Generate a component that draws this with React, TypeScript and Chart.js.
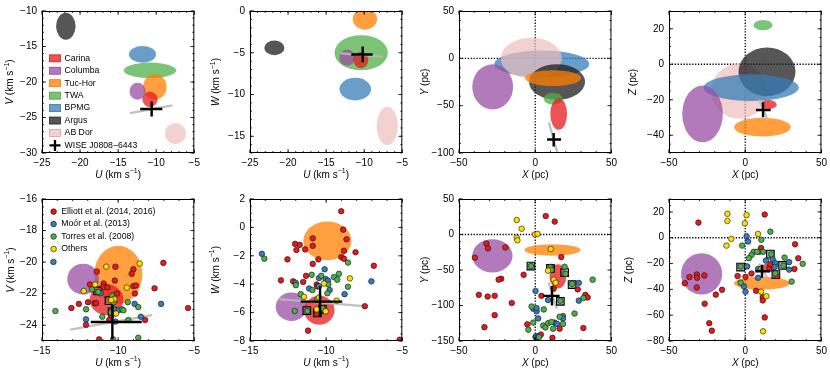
import React, { useEffect, useRef } from 'react';
import { Chart, registerables } from 'chart.js';
Chart.register(...registerables);

const FONT = '"Liberation Sans", Arial, Helvetica, sans-serif';

// ---------- groups ----------
const groupNames = ['Carina', 'Columba', 'Tuc-Hor', 'TWA', 'BPMG', 'Argus', 'AB Dor'];
const groupFill: Record<string, string> = {
  Carina: 'rgba(228,26,28,0.75)',
  Columba: 'rgba(152,78,163,0.75)',
  'Tuc-Hor': 'rgba(255,127,0,0.75)',
  TWA: 'rgba(77,175,74,0.75)',
  BPMG: 'rgba(55,126,184,0.75)',
  Argus: 'rgba(30,30,30,0.75)',
  'AB Dor': 'rgba(240,190,190,0.7)',
};
const groupEdge: Record<string, string> = {
  Carina: 'rgba(200,20,25,0.9)',
  Columba: 'rgba(130,60,140,0.9)',
  'Tuc-Hor': 'rgba(230,110,0,0.9)',
  TWA: 'rgba(60,150,60,0.9)',
  BPMG: 'rgba(45,105,160,0.9)',
  Argus: 'rgba(20,20,20,0.9)',
  'AB Dor': 'rgba(210,150,150,0.9)',
};
const wiseName = 'WISE J0808\u22126443';
const refNames = ['Elliott et al. (2014, 2016)', 'Mo\u00f3r et al. (2013)', 'Torres et al. (2008)', 'Others'];
const refColors = ['#e41a1c', '#377eb8', '#4daf4a', '#ffdd00'];

// ---------- ellipses: [group, centre x, centre y, radius x, radius y] ----------
type Ell = [string, number, number, number, number];
const uvEllipsesTop: Ell[] = [
  ['AB Dor', -7.48, -27.27, 1.39, 1.48],
  ['Argus', -21.87, -12.14, 1.28, 1.9],
  ['BPMG', -11.8, -16.1, 1.78, 1.18],
  ['TWA', -10.82, -18.36, 3.45, 1.09],
  ['Tuc-Hor', -10.18, -20.68, 1.54, 1.82],
  ['Columba', -12.45, -21.3, 1.05, 1.2],
  ['Carina', -10.82, -22.45, 1.0, 1.09],
];
const uwEllipsesTop: Ell[] = [
  ['AB Dor', -6.97, -13.77, 1.38, 2.3],
  ['Argus', -21.8, -4.42, 1.32, 0.88],
  ['BPMG', -11.18, -9.35, 2.08, 1.35],
  ['TWA', -10.4, -5.0, 3.5, 2.1],
  ['Tuc-Hor', -9.91, -0.96, 1.6, 1.27],
  ['Columba', -12.24, -5.58, 1.03, 0.96],
  ['Carina', -10.44, -5.88, 0.99, 0.96],
];
const xyEllipsesTop: Ell[] = [
  ['BPMG', 4.3, -5.9, 31.2, 14.1],
  ['AB Dor', -2.6, 0.2, 20.0, 21.6],
  ['Argus', 14.3, -25.0, 18.4, 18.75],
  ['Tuc-Hor', 11.7, -20.9, 18.4, 8.35],
  ['Columba', -27.9, -30.1, 13.4, 23.9],
  ['TWA', 11.7, -42.7, 6.2, 6.3],
  ['Carina', 15.4, -58.8, 5.5, 16.7],
];
const xzEllipsesTop: Ell[] = [
  ['AB Dor', -3.9, -15.2, 18.5, 15.5],
  ['Argus', 14.3, -4.26, 18.7, 13.7],
  ['BPMG', 3.9, -13.2, 31.3, 7.5],
  ['Carina', 15.4, -22.7, 5.3, 2.5],
  ['Tuc-Hor', 11.3, -35.4, 18.6, 5.3],
  ['Columba', -28.0, -28.0, 13.3, 16.0],
  ['TWA', 11.7, 22.0, 6.2, 2.9],
];
const uvEllipsesBottom: Ell[] = [
  ['Tuc-Hor', -9.99, -20.8, 1.58, 1.84],
  ['Columba', -12.3, -21.08, 1.04, 0.97],
  ['Carina', -10.76, -22.38, 1.1, 0.97],
];
const uwEllipsesBottom: Ell[] = [
  ['Tuc-Hor', -9.92, -0.95, 1.58, 1.36],
  ['Columba', -12.28, -5.59, 1.03, 1.0],
  ['Carina', -10.45, -5.84, 1.0, 1.02],
];
const xyEllipsesBottom: Ell[] = [
  ['Columba', -28.1, -30.0, 13.2, 23.4],
  ['Tuc-Hor', 11.3, -21.8, 18.4, 8.0],
  ['Carina', 14.9, -59.0, 5.5, 17.0],
];
const xzEllipsesBottom: Ell[] = [
  ['Columba', -28.6, -28.0, 13.5, 16.0],
  ['Tuc-Hor', 11.0, -35.3, 18.4, 5.0],
  ['Carina', 15.1, -23.5, 5.1, 3.3],
];

// ---------- WISE J0808-6443: [x, y, x low, x high, y low, y high] ----------
const wiseUVTop = [-10.6, -23.8, -12.1, -9.2, -24.85, -22.75];
const wiseUWTop = [-10.2, -5.2, -11.7, -8.9, -6.15, -4.25];
const wiseXYTop = [12.1, -85.7, 7.8, 16.9, -93.2, -78.9];
const wiseXZTop = [11.7, -25.8, 7.0, 16.7, -29.8, -21.6];
const wiseUVBottom = [-10.38, -23.8, -11.8, -8.45, -24.9, -22.7];
const wiseUWBottom = [-10.4, -5.23, -11.67, -8.94, -6.3, -4.14];
const wiseXYBottom = [11.0, -86.4, 5.2, 16.0, -100.0, -72.7];
const wiseXZBottom = [11.0, -26.0, 6.6, 16.3, -31.0, -21.0];

// ---------- grey segment through WISE: [x1, y1, x2, y2] ----------
const greyUVTop = [-13.44, -24.4, -7.87, -23.3];
const greyUWTop = [-13.1, -5.08, -7.54, -5.46];
const greyXYTop = [8.9, -67.6, 15.5, -105];
const greyXZTop = [9.1, -19.9, 14.6, -31.2];
const greyUVBottom = [-13.14, -24.28, -7.78, -23.36];
const greyUWBottom = [-13.08, -5.05, -7.53, -5.55];
const greyXYBottom = [8.9, -68, 14.1, -104.5];
const greyXZBottom = [9.0, -20, 14.5, -31];

// ---------- literature members ----------
type Pt = [number, number];
const uvElliott: Pt[] = [[-10.18,-20.29],[-11.4,-20.6],[-9.0,-20.46],[-9.11,-20.74],[-7.03,-20.05],[-10.22,-21.17],[-11.85,-21.42],[-10.95,-21.36],[-10.97,-21.58],[-9.0,-21.52],[-8.83,-21.48],[-7.61,-21.66],[-8.9,-21.99],[-10.08,-21.99],[-11.98,-22.54],[-12.58,-22.65],[-11.53,-22.6],[-11.45,-22.6],[-13.07,-22.91],[-12.11,-23.97],[-10.46,-23.42],[-10.59,-23.67],[-8.23,-23.67],[-5.41,-22.91],[-11.25,-24.9],[-10.7,-21.6]];
const uvMoor: Pt[] = [[-14.25,-19.99],[-12.11,-23.63],[-11.15,-21.97],[-7.18,-22.65],[-8.92,-22.65],[-8.51,-23.46],[-10.25,-22.99],[-9.97,-23.05],[-10.18,-23.77]];
const uvTorres: Pt[] = [[-14.12,-23.1],[-12.11,-22.99],[-11.72,-21.73],[-11.3,-21.89],[-10.4,-22.13],[-10.3,-22.55],[-9.37,-22.54],[-9.75,-22.99],[-9.65,-23.05],[-8.68,-22.85],[-11.04,-23.46],[-9.33,-23.67],[-8.68,-24.79],[-10.33,-24.9],[-10.45,-23.2]];
const uvOthers: Pt[] = [[-10.78,-20.29],[-8.58,-20.09],[-11.51,-21.42],[-9.43,-21.62],[-12.26,-21.83],[-10.25,-22.34],[-10.14,-23.26],[-10.45,-22.4]];
const uvSquares: Pt[] = [[-11.34,-21.83],[-10.6,-22.44],[-10.4,-23.16]];

const uwElliott: Pt[] = [[-9.01,1.14],[-8.88,-0.16],[-8.66,-0.84],[-10.88,-0.77],[-10.88,-1.3],[-12.04,-1.16],[-11.73,-1.23],[-11.95,-1.59],[-11.38,-1.55],[-8.83,-1.64],[-9.01,-2.09],[-8.83,-2.2],[-8.07,-1.75],[-10.51,-2.25],[-12.54,-2.25],[-10.88,-2.57],[-6.87,-2.7],[-11.32,-3.41],[-12.97,-3.73],[-12.17,-3.8],[-11.51,-3.84],[-10.62,-4.02],[-10.58,-4.15],[-7.46,-5.55],[-11.19,-7.27],[-5.17,-7.91],[-10.6,-6.1]];
const uwMoor: Pt[] = [[-14.22,-1.86],[-10.1,-2.95],[-10.47,-3.57],[-10.03,-3.64],[-9.88,-3.75],[-11.12,-4.3],[-10.47,-4.14],[-9.77,-4.41],[-8.79,-4.7],[-7.03,-3.8],[-12.0,-3.9]];
const uwTorres: Pt[] = [[-14.06,-2.2],[-8.57,-2.48],[-11.99,-4.07],[-10.95,-3.34],[-9.49,-3.5],[-10.32,-3.41],[-9.16,-3.27],[-9.27,-3.68],[-9.86,-4.02],[-8.57,-4.18],[-11.67,-4.7],[-10.9,-4.41],[-9.92,-4.64],[-12.06,-5.89],[-11.23,-5.89],[-10.47,-5.84],[-10.25,-5.7],[-10.58,-5.1]];
const uwOthers: Pt[] = [[-10.14,-3.95],[-8.44,-3.59],[-11.45,-4.89],[-10.47,-4.93],[-9.31,-5.16],[-10.03,-5.91],[-10.62,-5.77]];
const uwSquares: Pt[] = [[-11.27,-5.86],[-10.58,-6.02],[-10.25,-5.77]];

const xyElliott: Pt[] = [[6.9,25.9],[12.8,18.2],[-32.0,-12.7],[-31.0,-19.5],[-19.5,-18.2],[-39.6,-32.7],[17.1,-31.8],[10.2,-45.5],[-7.6,-56.8],[-22.3,-62.3],[-24.0,-63.6],[12.1,-76.4],[27.9,-77.3],[-37.0,-85],[-31.2,-87.3],[-26.6,-86.4],[4.1,-86.4],[32.9,-85],[34.4,-88.6],[-15.4,-96.4],[-26.6,-113.6],[-33.3,-130.5],[-5.2,-126.4],[0.2,-144.5],[3.7,-141],[11.3,-145.5],[16.0,-132.7],[31.6,-131.8]];
const xyMoor: Pt[] = [[0.2,-79.5],[8.4,-92.3],[-1.3,-104.5],[0.9,-108.2],[0.9,-103.6],[1.9,-118.2],[12.8,-124.1],[18.2,-115],[18.2,-118.2],[14.3,-125.9],[28.6,-68.2],[28.6,-93.2],[0.6,-143.2],[1.7,-144.5]];
const xyTorres: Pt[] = [[-2.8,-44.5],[10.0,-46.4],[19.3,-45.5],[19.9,-55.5],[10.6,-50],[37.7,-63.6],[24.2,-69.5],[31.6,-89.5],[16.5,-93.2],[-2.4,-101.4],[5.6,-105.5],[25.8,-111.4],[16.0,-115.9],[-1.3,-124.1],[5.2,-128.2],[6.7,-130.9],[8.4,-125],[11.7,-132.7],[10.6,-123.2],[18.2,-125.9],[2.6,-144.5],[-4.5,-134]];
const xyOthers: Pt[] = [[-12.1,20.5],[-8.9,8.2],[-12.1,-4.5],[-11.7,-8.2],[-0.2,0],[1.5,0.9],[10.2,-20.5],[8.4,-50.9],[12.1,-63.6],[13.4,-68]];
const xySquares: Pt[] = [[-2.8,-44.5],[10.0,-47.7],[19.3,-53.6],[24.2,-70.5],[16.5,-94.1]];

const xzElliott: Pt[] = [[-30.7,11.7],[12.8,18.0],[32.7,-5.1],[10.4,-7.9],[-31.8,-28.5],[-36.6,-30.5],[-31.6,-31.0],[-26.8,-29.2],[-39.6,-35.3],[-31.8,-38.5],[-19.3,-44.1],[-15.2,-40.3],[-26.6,-51.1],[-23.6,-66.2],[-21.9,-72],[-5.0,-29.7],[0.2,-30.3],[4.1,-27.7],[7.1,-41.1],[11.5,-46.1],[11.5,-48.6],[12.8,-61.7],[15.8,-23.5],[20.8,-29.7],[32.3,-24.2],[34.8,-15.9],[16.5,-20.5]];
const xzMoor: Pt[] = [[0.9,1.2],[1.9,-2.9],[1.3,-22.2],[8.4,-24.2],[13.6,-17.7],[18.0,-16.7],[19.8,-19.7],[28.8,-18.9],[28.8,-24.7],[8.4,-31.0],[-0.9,-37.8],[0.2,-41.8],[19.3,-22.7]];
const xzTorres: Pt[] = [[-2.0,-6.1],[10.6,-1.6],[16.5,4.7],[5.6,-10.9],[4.1,-13.4],[2.4,-15.9],[9.1,-10.9],[11.7,-10.9],[17.1,-12.9],[25.8,-15.4],[37.7,-20.2],[-3.0,-22.2],[10.0,-24.2],[25.1,-21.7],[19.7,-27.7],[30.5,-34],[-3.0,-34.8],[7.8,-10.9]];
const xzOthers: Pt[] = [[-11.7,18.5],[0.9,17.5],[-11.7,13.0],[-0.2,11.2],[-9.1,-0.9],[-12.3,-6.1],[8.4,2.9],[10.4,-41.8],[13.9,-45.3],[11.7,-72.5]];
const xzSquares: Pt[] = [[-3.0,-22.7],[16.5,-12.7],[20.1,-28.5],[24.5,-21.5]];

// ---------- axes ----------
const uTicksTop = [-25, -20, -15, -10, -5];
const vTicksTop = [-30, -25, -20, -15, -10];
const wTicksTop = [-15, -10, -5, 0];
const xTicks = [-50, 0, 50];
const yTicksTop = [-100, -50, 0, 50];
const zTicksTop = [-40, -20, 0, 20];
const uTicksBottom = [-15, -10, -5];
const vTicksBottom = [-24, -22, -20, -18, -16];
const wTicksBottom = [-8, -6, -4, -2, 0, 2];
const yTicksBottom = [-150, -100, -50, 0, 50];
const zTicksBottom = [-80, -60, -40, -20, 0, 20];

type Title = { v: string; u: string; sup?: string };
const tU: Title = { v: 'U', u: 'km s', sup: '\u22121' };
const tV: Title = { v: 'V', u: 'km s', sup: '\u22121' };
const tW: Title = { v: 'W', u: 'km s', sup: '\u22121' };
const tX: Title = { v: 'X', u: 'pc' };
const tY: Title = { v: 'Y', u: 'pc' };
const tZ: Title = { v: 'Z', u: 'pc' };

interface PanelCfg {
  left: number; top: number;
  xr: [number, number]; yr: [number, number];
  xt: number[]; yt: number[]; xm: number; ym: number;
  xTitle: Title; yTitle: Title; yTitleOff: number;
  ell: Ell[]; zero: boolean;
  wise: number[]; grey: number[];
  pts?: { e: Pt[]; m: Pt[]; t: Pt[]; o: Pt[]; s: Pt[] };
  legend?: 'groups' | 'refs';
}

const W = 154, H = 146, LM = 50, RM = 8, TM = 7, BM = 33;
const panels: PanelCfg[] = [
  { left: 42, top: 7, xr: [-25, -5], yr: [-30, -10], xt: uTicksTop, yt: vTicksTop, xm: 1, ym: 1, xTitle: tU, yTitle: tV, yTitleOff: 31.5, ell: uvEllipsesTop, zero: false, wise: wiseUVTop, grey: greyUVTop, legend: 'groups' },
  { left: 250, top: 7, xr: [-25, -5], yr: [-17, 0], xt: uTicksTop, yt: wTicksTop, xm: 1, ym: 1, xTitle: tU, yTitle: tW, yTitleOff: 33.5, ell: uwEllipsesTop, zero: false, wise: wiseUWTop, grey: greyUWTop },
  { left: 459, top: 7, xr: [-50, 50], yr: [-100, 50], xt: xTicks, yt: yTicksTop, xm: 10, ym: 10, xTitle: tX, yTitle: tY, yTitleOff: 34, ell: xyEllipsesTop, zero: true, wise: wiseXYTop, grey: greyXYTop },
  { left: 669, top: 7, xr: [-50, 50], yr: [-50, 30], xt: xTicks, yt: zTicksTop, xm: 10, ym: 5, xTitle: tX, yTitle: tZ, yTitleOff: 35.5, ell: xzEllipsesTop, zero: true, wise: wiseXZTop, grey: greyXZTop },
  { left: 42, top: 195, xr: [-15, -5], yr: [-25, -16], xt: uTicksBottom, yt: vTicksBottom, xm: 1, ym: 0.5, xTitle: tU, yTitle: tV, yTitleOff: 31, ell: uvEllipsesBottom, zero: false, wise: wiseUVBottom, grey: greyUVBottom, pts: { e: uvElliott, m: uvMoor, t: uvTorres, o: uvOthers, s: uvSquares }, legend: 'refs' },
  { left: 250, top: 195, xr: [-15, -5], yr: [-8, 2], xt: uTicksBottom, yt: wTicksBottom, xm: 1, ym: 0.5, xTitle: tU, yTitle: tW, yTitleOff: 34, ell: uwEllipsesBottom, zero: false, wise: wiseUWBottom, grey: greyUWBottom, pts: { e: uwElliott, m: uwMoor, t: uwTorres, o: uwOthers, s: uwSquares } },
  { left: 459, top: 195, xr: [-50, 50], yr: [-150, 50], xt: xTicks, yt: yTicksBottom, xm: 10, ym: 10, xTitle: tX, yTitle: tY, yTitleOff: 34, ell: xyEllipsesBottom, zero: true, wise: wiseXYBottom, grey: greyXYBottom, pts: { e: xyElliott, m: xyMoor, t: xyTorres, o: xyOthers, s: xySquares } },
  { left: 669, top: 195, xr: [-50, 50], yr: [-80, 30], xt: xTicks, yt: zTicksBottom, xm: 10, ym: 5, xTitle: tX, yTitle: tZ, yTitleOff: 40, ell: xzEllipsesBottom, zero: true, wise: wiseXZBottom, grey: greyXZBottom, pts: { e: xzElliott, m: xzMoor, t: xzTorres, o: xzOthers, s: xzSquares } },
];

const fmt = (v: number | string) => {
  const n = Number(v);
  return n < 0 ? '\u2212' + Math.abs(n) : String(n);
};

function drawTitle(ctx: CanvasRenderingContext2D, t: Title, cx: number, cy: number, rot: boolean) {
  const fItal = `italic 10px ${FONT}`;
  const fNorm = `10px ${FONT}`;
  const fSup = `7px ${FONT}`;
  ctx.save();
  ctx.translate(cx, cy);
  if (rot) ctx.rotate(-Math.PI / 2);
  ctx.textBaseline = 'middle';
  ctx.textAlign = 'left';
  ctx.fillStyle = '#000';
  ctx.font = fItal; const w1 = ctx.measureText(t.v).width;
  ctx.font = fNorm; const s2 = ' (' + t.u; const w2 = ctx.measureText(s2).width;
  ctx.font = fSup; const w3 = t.sup ? ctx.measureText(t.sup).width : 0;
  ctx.font = fNorm; const w4 = ctx.measureText(')').width;
  let x = -(w1 + w2 + w3 + w4) / 2;
  ctx.font = fItal; ctx.fillText(t.v, x, 0); x += w1;
  ctx.font = fNorm; ctx.fillText(s2, x, 0); x += w2;
  if (t.sup) { ctx.font = fSup; ctx.fillText(t.sup, x, -3.5); x += w3; }
  ctx.font = fNorm; ctx.fillText(')', x, 0);
  ctx.restore();
}

function makePlugin(cfg: PanelCfg) {
  return {
    id: 'panelDeco',
    beforeDatasetsDraw(chart: any) {
      const { ctx, chartArea: a } = chart;
      const xs = chart.scales.x, ys = chart.scales.y;
      ctx.save();
      ctx.beginPath();
      ctx.rect(a.left, a.top, a.right - a.left, a.bottom - a.top);
      ctx.clip();
      if (cfg.zero) {
        ctx.strokeStyle = '#000';
        ctx.lineWidth = 1.3;
        ctx.setLineDash([1.3, 1.6]);
        const x0 = xs.getPixelForValue(0), y0 = ys.getPixelForValue(0);
        ctx.beginPath(); ctx.moveTo(x0, a.top); ctx.lineTo(x0, a.bottom); ctx.stroke();
        ctx.beginPath(); ctx.moveTo(a.left, y0); ctx.lineTo(a.right, y0); ctx.stroke();
        ctx.setLineDash([]);
      }
      for (const e of cfg.ell) {
        const cx = xs.getPixelForValue(e[1]);
        const cy = ys.getPixelForValue(e[2]);
        const rx = Math.abs(xs.getPixelForValue(e[1] + e[3]) - cx);
        const ry = Math.abs(ys.getPixelForValue(e[2] + e[4]) - cy);
        ctx.beginPath();
        ctx.ellipse(cx, cy, rx, ry, 0, 0, Math.PI * 2);
        ctx.fillStyle = groupFill[e[0]];
        ctx.fill();
      }
      ctx.restore();
    },
    afterDraw(chart: any) {
      const { ctx, chartArea: a } = chart;
      const xs = chart.scales.x, ys = chart.scales.y;
      ctx.save();
      // frame
      ctx.strokeStyle = '#000';
      ctx.lineWidth = 1;
      ctx.strokeRect(a.left + 0.5, a.top + 0.5, a.right - a.left - 1, a.bottom - a.top - 1);
      // inward ticks
      ctx.lineWidth = 0.8;
      ctx.beginPath();
      const xTick = (v: number, len: number) => {
        const p = xs.getPixelForValue(v);
        ctx.moveTo(p, a.bottom); ctx.lineTo(p, a.bottom - len);
        ctx.moveTo(p, a.top); ctx.lineTo(p, a.top + len);
      };
      const yTick = (v: number, len: number) => {
        const p = ys.getPixelForValue(v);
        ctx.moveTo(a.left, p); ctx.lineTo(a.left + len, p);
        ctx.moveTo(a.right, p); ctx.lineTo(a.right - len, p);
      };
      for (let v = Math.ceil(cfg.xr[0] / cfg.xm) * cfg.xm; v <= cfg.xr[1] + 1e-9; v += cfg.xm) xTick(v, 2);
      for (let v = Math.ceil(cfg.yr[0] / cfg.ym) * cfg.ym; v <= cfg.yr[1] + 1e-9; v += cfg.ym) yTick(v, 2);
      cfg.xt.forEach((v) => xTick(v, 4));
      cfg.yt.forEach((v) => yTick(v, 4));
      ctx.stroke();
      // titles
      drawTitle(ctx, cfg.xTitle, (a.left + a.right) / 2, a.bottom + 22, false);
      drawTitle(ctx, cfg.yTitle, a.left - cfg.yTitleOff, (a.top + a.bottom) / 2, true);
      // legends
      ctx.textBaseline = 'middle';
      ctx.textAlign = 'left';
      ctx.font = `8.7px ${FONT}`;
      if (cfg.legend === 'groups') {
        groupNames.forEach((g, i) => {
          const cy = a.top + 47.3 + i * 12.45;
          ctx.fillStyle = groupFill[g];
          ctx.fillRect(a.left + 7.5, cy - 3.5, 11, 7);
          ctx.strokeStyle = groupEdge[g];
          ctx.lineWidth = 0.8;
          ctx.strokeRect(a.left + 7.5, cy - 3.5, 11, 7);
          ctx.fillStyle = '#000';
          ctx.fillText(g, a.left + 22.6, cy);
        });
        const cy = a.top + 47.3 + 7 * 12.45;
        const cx = a.left + 13;
        ctx.strokeStyle = '#000';
        ctx.lineWidth = 2.3;
        ctx.beginPath();
        ctx.moveTo(cx - 5.5, cy); ctx.lineTo(cx + 5.5, cy);
        ctx.moveTo(cx, cy - 5.5); ctx.lineTo(cx, cy + 5.5);
        ctx.stroke();
        ctx.fillStyle = '#000';
        ctx.fillText(wiseName, a.left + 22.6, cy);
      } else if (cfg.legend === 'refs') {
        refNames.forEach((n, i) => {
          const cy = a.top + 12.6 + i * 12.45;
          const cx = a.left + 11.6;
          ctx.beginPath();
          ctx.arc(cx, cy, 2.8, 0, Math.PI * 2);
          ctx.fillStyle = refColors[i];
          ctx.fill();
          ctx.strokeStyle = '#000';
          ctx.lineWidth = 0.6;
          ctx.stroke();
          ctx.fillStyle = '#000';
          ctx.fillText(n, a.left + 19.3, cy);
        });
      }
      ctx.restore();
    },
  };
}

const toXY = (arr: Pt[]) => arr.map((p) => ({ x: p[0], y: p[1] }));

function Panel({ cfg }: { cfg: PanelCfg }) {
  const ref = useRef<HTMLCanvasElement>(null);
  useEffect(() => {
    const datasets: any[] = [];
    const g = cfg.grey;
    datasets.push({
      data: [{ x: g[0], y: g[1] }, { x: g[2], y: g[3] }],
      showLine: true, borderColor: 'rgba(185,185,185,0.9)', borderWidth: 2.3,
      pointRadius: 0, clip: 0, order: 20,
    });
    if (cfg.pts) {
      const p = cfg.pts;
      datasets.push({ data: toXY(p.s), pointStyle: 'rect', pointRadius: 5.4, backgroundColor: 'rgba(110,110,110,0.55)', borderColor: '#000', borderWidth: 1.1, clip: 0, order: 15 });
      const groups = [p.e, p.m, p.t, p.o];
      groups.forEach((arr, i) => {
        datasets.push({ data: toXY(arr), pointRadius: 2.8, backgroundColor: refColors[i], borderColor: '#111', borderWidth: 0.6, clip: 0, order: 12 - i });
      });
    }
    const w = cfg.wise;
    datasets.push({ data: [{ x: w[2], y: w[1] }, { x: w[3], y: w[1] }], showLine: true, borderColor: '#000', borderWidth: 2.4, pointRadius: 0, clip: 0, order: 1 });
    datasets.push({ data: [{ x: w[0], y: w[4] }, { x: w[0], y: w[5] }], showLine: true, borderColor: '#000', borderWidth: 2.4, pointRadius: 0, clip: 0, order: 1 });

    const tickFont = { family: FONT, size: 10 };
    const chart = new Chart(ref.current as HTMLCanvasElement, {
      type: 'scatter',
      data: { datasets },
      options: {
        responsive: false,
        animation: false,
        devicePixelRatio: 1,
        events: [],
        layout: { padding: { left: 0, right: RM, top: TM, bottom: 0 } },
        plugins: { legend: { display: false }, tooltip: { enabled: false } },
        scales: {
          x: {
            type: 'linear', min: cfg.xr[0], max: cfg.xr[1],
            afterBuildTicks: (s: any) => { s.ticks = cfg.xt.map((v) => ({ value: v })); },
            afterFit: (s: any) => { s.height = BM; },
            grid: { display: false, drawTicks: false },
            border: { display: false },
            ticks: { callback: fmt, font: tickFont, color: '#000', padding: 4, maxRotation: 0, autoSkip: false },
          },
          y: {
            type: 'linear', min: cfg.yr[0], max: cfg.yr[1],
            afterBuildTicks: (s: any) => { s.ticks = cfg.yt.map((v) => ({ value: v })); },
            afterFit: (s: any) => { s.width = LM; },
            grid: { display: false, drawTicks: false },
            border: { display: false },
            ticks: { callback: fmt, font: tickFont, color: '#000', padding: 5, autoSkip: false },
          },
        },
      } as any,
      plugins: [makePlugin(cfg)],
    });
    return () => chart.destroy();
  }, [cfg]);
  return (
    <canvas
      ref={ref}
      width={LM + W + RM}
      height={TM + H + BM}
      style={{ position: 'absolute', left: cfg.left - LM, top: cfg.top - TM, width: LM + W + RM, height: TM + H + BM }}
    />
  );
}

export default function App() {
  return (
    <div style={{ position: 'absolute', left: 0, top: 0, width: 830, height: 372, overflow: 'hidden', background: '#fff' }}>
      {panels.map((p, i) => (
        <Panel key={i} cfg={p} />
      ))}
    </div>
  );
}
